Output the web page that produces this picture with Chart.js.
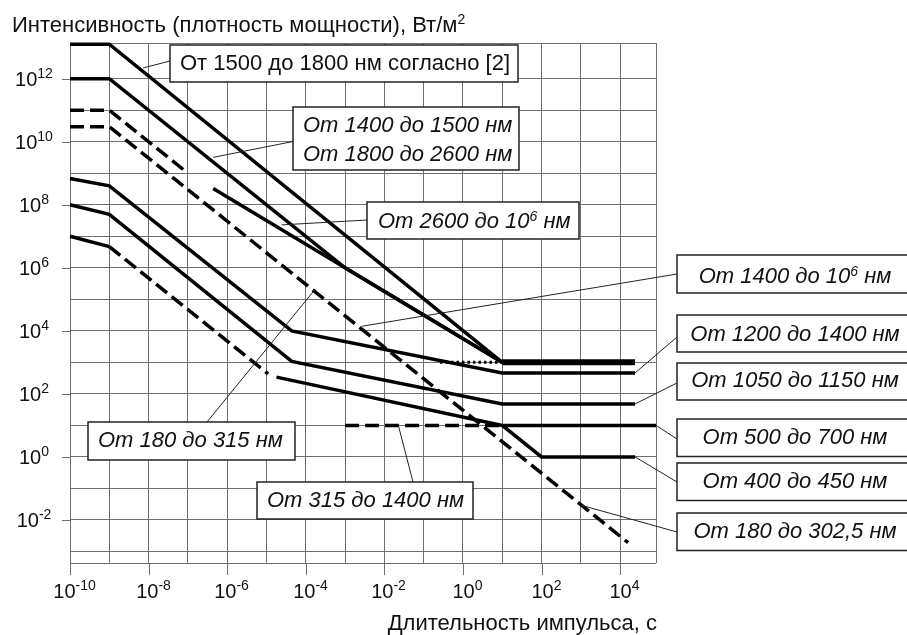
<!DOCTYPE html>
<html lang="ru">
<head>
<meta charset="utf-8">
<title>Интенсивность и длительность импульса</title>
<script src="https://cdn.jsdelivr.net/npm/chart.js@4.4.1/dist/chart.umd.min.js"></script>
<style>
  html, body { margin: 0; padding: 0; background: #fff; }
  #wrap { width: 907px; height: 635px; }
</style>
</head>
<body>
<div id="wrap"><canvas id="mpeChart" width="907" height="635"></canvas></div>
<script>
// --- axis ranges and ticks (decade exponents) ---
const xMin = 1e-10, xMax = 8.2e4;
const yMin = 4.3e-4, yMax = 1.36e13;
const xGridPowers = [-10, -9, -8, -7, -6, -5, -4, -3, -2, -1, 0, 1, 2, 3, 4];
const yGridPowers = [-3, -2, -1, 0, 1, 2, 3, 4, 5, 6, 7, 8, 9, 10, 11, 12];
const xLabelPowers = [-10, -8, -6, -4, -2, 0, 2, 4];
const yLabelPowers = [12, 10, 8, 6, 4, 2, 0, -2];

// --- curves: pulse duration (s) / intensity (W/m2) ---
const t1500 = [1e-10, 1e-9, 10];
const e1500 = [1.25e13, 1.25e13, 1e3];

const t1400 = [1e-10, 1e-9, 1e-3, 10];
const e1400 = [1e12, 1e12, 1e6, 1e3];

const t2600Dash = [1e-10, 1e-9, 1e-7];
const e2600Dash = [1e11, 1e11, 1e9];
const t2600 = [4.4e-7, 1e-3, 10];
const e2600 = [3.3e8, 1e6, 1e3];

const tPlateau = [10, 2.4e4];
const ePlateau = [1e3, 1e3];
const tDotted = [0.26, 10];
const eDotted = [1e3, 1e3];

const t180 = [1e-10, 1e-9, 1.6e4];
const e180 = [3e10, 3e10, 1.9e-3];

const t1200 = [1e-10, 1e-9, 4.4e-5, 10, 2.4e4];
const e1200 = [6.8e8, 4e8, 1e4, 460, 460];

const t1050 = [1e-10, 1e-9, 4.4e-5, 10, 2.4e4];
const e1050 = [1e8, 5e7, 1.07e3, 48, 48];

const t500Start = [1e-10, 1e-9];
const e500Start = [1e7, 4.7e6];
const t500Dash = [1e-9, 1.1e-5];
const e500Dash = [4.7e6, 430];
const t500 = [1.8e-5, 10, 8.2e4];
const e500 = [340, 10, 10];

const t400 = [10, 100, 2.4e4];
const e400 = [10, 1, 1];

const t315 = [1e-3, 10];
const e315 = [10, 10];

function pts(xs, ys) {
    return xs.map(function (x, i) { return { x: x, y: ys[i] }; });
}

const FONT = '"Liberation Sans", Arial, sans-serif';
const GRID = '#707070';

// text with ^{..} superscripts
function drawRich(ctx, text, x, y, opts) {
    const italic = opts.italic ? 'italic ' : '';
    const size = opts.size || 22;
    const supSize = opts.supSize || 14;
    const parts = text.split(/\^\{([^}]*)\}/).map(function (t, i) {
        return { t: t, sup: i % 2 === 1 };
    });
    let w = 0;
    parts.forEach(function (p) {
        ctx.font = italic + (p.sup ? supSize : size) + 'px ' + FONT;
        p.w = ctx.measureText(p.t).width;
        w += p.w;
    });
    let cx = x;
    if (opts.align === 'center') cx = x - w / 2;
    if (opts.align === 'right') cx = x - w;
    ctx.textAlign = 'left';
    ctx.textBaseline = 'alphabetic';
    parts.forEach(function (p) {
        ctx.font = italic + (p.sup ? supSize : size) + 'px ' + FONT;
        ctx.fillText(p.t, cx, p.sup ? y - (opts.supRise || 7) : y);
        cx += p.w;
    });
}

// callout boxes: box [x, y, w, h] in px, leader from anchor (px) to target (data)
const callouts = [
    { text: ['От 1500 до 1800 нм согласно [2]'], italic: false, box: [170, 45, 348, 37], textX: 180, base: 70, anchor: [170, 61], target: [7.3e-9, 2.2e12] },
    { text: ['От 1400 до 1500 нм', 'От 1800 до 2600 нм'], italic: true, box: [293, 107, 226, 63], textX: 303, base: 131.5, gap: 29, anchor: [293, 141.5], target: [4.4e-7, 3.2e9] },
    { text: ['От 2600 до 10^{6} нм'], italic: true, box: [367, 202, 212, 37], textX: 378, base: 228, anchor: [367, 220], target: [2.44e-5, 2.3e7] },
    { text: ['От 1400 до 10^{6} нм'], italic: true, box: [677, 255, 240, 38], center: 795, base: 283, anchor: [677, 274], target: [2.7e-3, 1.4e4] },
    { text: ['От 1200 до 1400 нм'], italic: true, box: [677, 315, 240, 37], center: 795, base: 341, anchor: [677, 337], target: [2.4e4, 460] },
    { text: ['От 1050 до 1150 нм'], italic: true, box: [677, 363, 240, 37], center: 795, base: 387, anchor: [677, 383], target: [2.4e4, 48] },
    { text: ['От 500 до 700 нм'], italic: true, box: [677, 419, 240, 37.5], center: 795, base: 444, anchor: [677, 439], target: [8.2e4, 10] },
    { text: ['От 400 до 450 нм'], italic: true, box: [677, 463, 240, 37.5], center: 795, base: 488, anchor: [677, 482], target: [2.4e4, 1] },
    { text: ['От 180 до 302,5 нм'], italic: true, box: [677, 513, 240, 37.5], center: 795, base: 538, anchor: [677, 532], target: [955, 0.03] },
    { text: ['От 180 до 315 нм'], italic: true, box: [88, 422, 207, 38], textX: 98, base: 447, anchor: [207, 422], target: [1.74e-4, 2.1e5] },
    { text: ['От 315 до 1400 нм'], italic: true, box: [257, 482, 216, 37], textX: 267, base: 507, anchor: [413, 482], target: [0.0227, 10] }
];

const decorPlugin = {
    id: 'decor',
    afterDraw: function (chart) {
        const ctx = chart.ctx;
        const xs = chart.scales.x, ys = chart.scales.y;
        const area = chart.chartArea;
        ctx.save();
        ctx.fillStyle = '#111';

        // tick marks + tick labels
        ctx.strokeStyle = GRID;
        ctx.lineWidth = 1;
        xLabelPowers.forEach(function (p) {
            const px = Math.round(xs.getPixelForValue(Math.pow(10, p))) + 0.5;
            ctx.beginPath();
            ctx.moveTo(px, area.bottom);
            ctx.lineTo(px, area.bottom + 12);
            ctx.stroke();
            drawRich(ctx, '10^{' + p + '}', px + 4, 598, { align: 'center', size: 20, supSize: 14, supRise: 8 });
        });
        yLabelPowers.forEach(function (p) {
            const py = Math.round(ys.getPixelForValue(Math.pow(10, p))) + 0.5;
            ctx.beginPath();
            ctx.moveTo(area.left - 8, py);
            ctx.lineTo(area.left, py);
            ctx.stroke();
            drawRich(ctx, '10^{' + p + '}', 34, py + 6, { align: 'center', size: 20, supSize: 14, supRise: 8 });
        });

        // axis titles
        drawRich(ctx, 'Интенсивность (плотность мощности), Вт/м^{2}', 12, 32, { size: 22, supSize: 14, supRise: 8 });
        drawRich(ctx, 'Длительность импульса, с', 657, 630, { align: 'right', size: 22 });

        // callouts
        callouts.forEach(function (c) {
            const tx = xs.getPixelForValue(c.target[0]);
            const ty = ys.getPixelForValue(c.target[1]);
            ctx.strokeStyle = '#222';
            ctx.lineWidth = 1;
            ctx.beginPath();
            ctx.moveTo(c.anchor[0], c.anchor[1]);
            ctx.lineTo(tx, ty);
            ctx.stroke();

            ctx.fillStyle = '#fff';
            ctx.fillRect(c.box[0], c.box[1], c.box[2], c.box[3]);
            ctx.lineWidth = 1.5;
            ctx.strokeRect(c.box[0], c.box[1], c.box[2], c.box[3]);

            ctx.fillStyle = '#111';
            c.text.forEach(function (line, i) {
                const y = c.base + i * (c.gap || 0);
                if (c.center) {
                    drawRich(ctx, line, c.center, y, { align: 'center', italic: c.italic });
                } else {
                    drawRich(ctx, line, c.textX, y, { italic: c.italic });
                }
            });
        });
        ctx.restore();
    }
};

function solid(xs, ys, width) {
    return { data: pts(xs, ys), borderColor: '#000', borderWidth: width || 3.5, borderDash: [] };
}
function dashed(xs, ys) {
    return { data: pts(xs, ys), borderColor: '#000', borderWidth: 3.5, borderDash: [14, 6] };
}

const ctx = document.getElementById('mpeChart').getContext('2d');
new Chart(ctx, {
    type: 'line',
    data: {
        datasets: [
            solid(t1500, e1500),
            solid(t1400, e1400),
            dashed(t2600Dash, e2600Dash),
            solid(t2600, e2600),
            solid(tPlateau, ePlateau, 6),
            { data: pts(tDotted, eDotted), borderColor: '#000', borderWidth: 3, borderDash: [2.5, 3] },
            dashed(t180, e180),
            solid(t1200, e1200),
            solid(t1050, e1050),
            solid(t500Start, e500Start),
            dashed(t500Dash, e500Dash),
            solid(t500, e500),
            solid(t400, e400),
            dashed(t315, e315)
        ]
    },
    options: {
        responsive: false,
        animation: false,
        clip: false,
        layout: { padding: { left: 70, top: 43, right: 251, bottom: 72 } },
        elements: {
            point: { radius: 0, hoverRadius: 0 },
            line: { tension: 0, fill: false, borderJoinStyle: 'miter', borderCapStyle: 'butt' }
        },
        plugins: {
            legend: { display: false },
            tooltip: { enabled: false }
        },
        scales: {
            x: {
                type: 'logarithmic',
                min: xMin,
                max: xMax,
                afterBuildTicks: function (scale) {
                    scale.ticks = xGridPowers.map(function (p) { return { value: Math.pow(10, p) }; })
                        .concat([{ value: xMax }]);
                },
                ticks: { display: false },
                grid: { color: GRID, lineWidth: 1, drawTicks: false },
                border: { display: false }
            },
            y: {
                type: 'logarithmic',
                min: yMin,
                max: yMax,
                afterBuildTicks: function (scale) {
                    scale.ticks = [{ value: yMin }].concat(yGridPowers.map(function (p) { return { value: Math.pow(10, p) }; }))
                        .concat([{ value: yMax }]);
                },
                ticks: { display: false },
                grid: { color: GRID, lineWidth: 1, drawTicks: false },
                border: { display: false }
            }
        }
    },
    plugins: [decorPlugin]
});
</script>
</body>
</html>
